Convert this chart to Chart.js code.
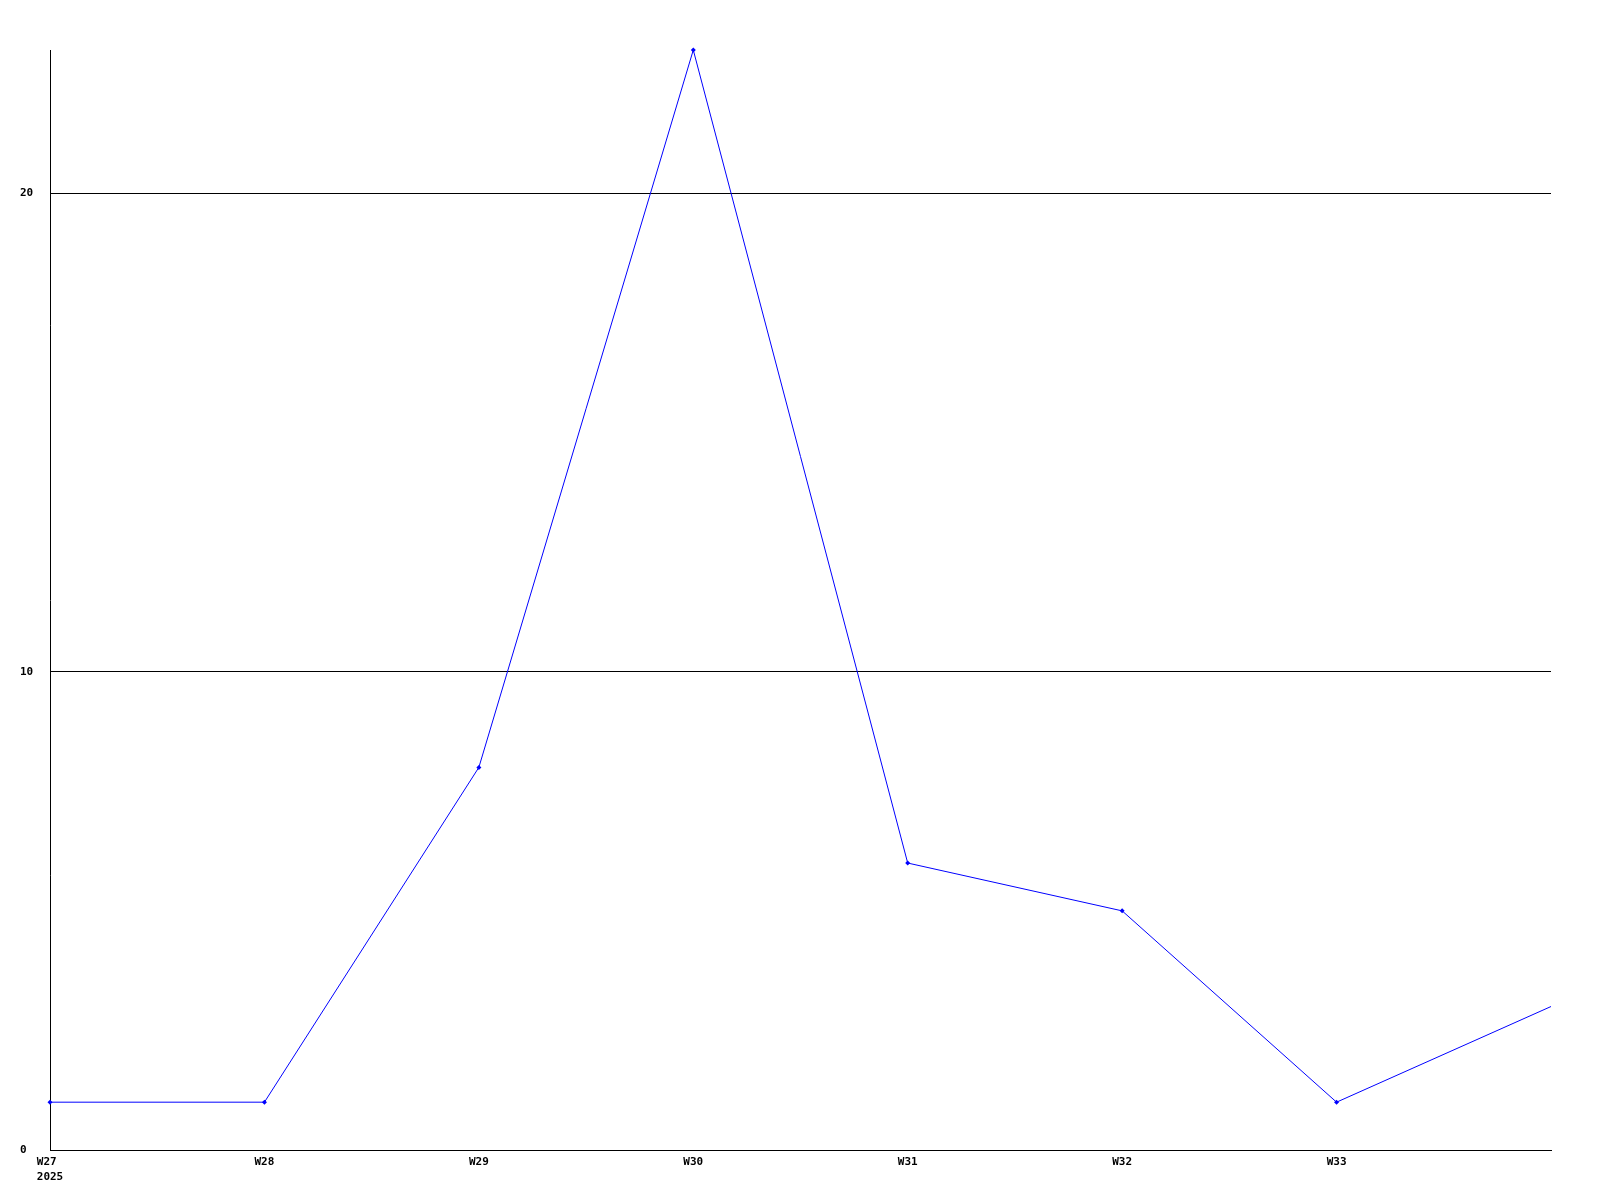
<!DOCTYPE html>
<html>
<head>
<meta charset="utf-8">
<script src="https://cdn.jsdelivr.net/npm/chart.js@4"></script>
<style>
  body { margin: 0; background: #fff; }
  canvas { display: block; }
</style>
</head>
<body>
<canvas id="weekChart" width="1600" height="1200"></canvas>
<script>
// dados do gráfico
const weeks = ['W27', 'W28', 'W29', 'W30', 'W31', 'W32', 'W33', 'W34'];
const yearLabel = '2025';
const counts = [1, 1, 8, 23, 6, 5, 1, 3];
const yTicks = [0, 10, 20];
const yMax = 23;

const ctx = document.getElementById('weekChart').getContext('2d');

const weekChart = new Chart(ctx, {
    type: 'line',
    data: {
        labels: weeks,
        datasets: [{
            data: counts,
            borderColor: '#0000ff',
            backgroundColor: '#0000ff',
            borderWidth: 1,
            tension: 0,
            pointStyle: 'rectRot',
            // o último ponto fica na borda, sem marcador
            pointRadius: (c) => (c.dataIndex === weeks.length - 1 ? 0 : 2.5),
            pointBorderWidth: 0,
            clip: false
        }]
    },
    options: {
        responsive: false,
        animation: false,
        devicePixelRatio: 1,
        layout: { padding: { top: 50, right: 49, left: 20, bottom: 0 } },
        plugins: {
            legend: { display: false },
            tooltip: { enabled: false }
        },
        scales: {
            x: {
                grid: { display: false, drawTicks: false },
                border: { color: '#000', width: 1 },
                afterFit: (scale) => { scale.height = 50; },
                ticks: {
                    color: '#000',
                    font: { family: 'DejaVu Sans Mono', size: 11, weight: 'bold', lineHeight: 1.35 },
                    padding: 5,
                    maxRotation: 0,
                    autoSkip: false,
                    callback: function (value, index) {
                        if (index === weeks.length - 1) return '';
                        if (index === 0) return [weeks[index] + ' ', yearLabel];
                        return weeks[index];
                    }
                }
            },
            y: {
                min: 0,
                max: yMax,
                afterBuildTicks: (scale) => { scale.ticks = yTicks.map(v => ({ value: v })); },
                afterFit: (scale) => { scale.width = 30; },
                grid: { color: '#000', lineWidth: 1, drawTicks: false },
                border: { color: '#000', width: 1 },
                ticks: {
                    color: '#000',
                    crossAlign: 'far',
                    padding: 16,
                    font: { family: 'DejaVu Sans Mono', size: 11, weight: 'bold' }
                }
            }
        }
    }
});
</script>
</body>
</html>
